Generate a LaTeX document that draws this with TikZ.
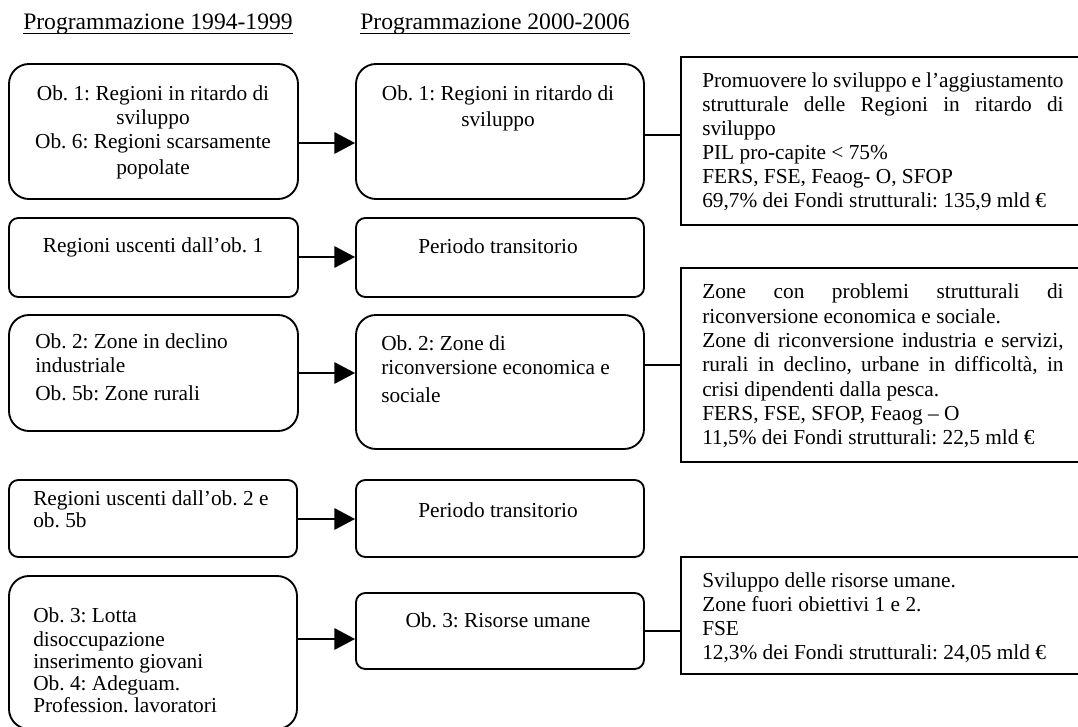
\documentclass[tikz,border=0pt]{standalone}
\usepackage{fontspec}
\setmainfont{Liberation Serif}
\usetikzlibrary{arrows.meta,fit}
\frenchspacing
\begin{document}
\begin{tikzpicture}[x=0.75pt,y=-0.75pt,
  frame/.style={draw, line width=1.4pt, inner sep=0pt, rectangle},
  bigbox/.style={frame, rounded corners=15pt},
  smallbox/.style={frame, rounded corners=7pt},
  infobox/.style={frame},
  body/.style={inner sep=0pt, font=\fontsize{16}{18}\selectfont},
  head/.style={inner sep=0pt, anchor=base west, font=\fontsize{17.7}{20}\selectfont},
  link/.style={line width=1.4pt},
  arrow/.style={link, -{Triangle[length=15.5pt,width=16pt]}},
]
\useasboundingbox (0,0) rectangle (1078,727);

% column headings
\node[head] (h1) at (23,30) {Programmazione 1994-1999};
\node[head] (h2) at (360,30) {Programmazione 2000-2006};
\draw[line width=1.1pt] ([yshift=-2.6pt]h1.base west) -- ([yshift=-2.6pt]h1.base east);
\draw[line width=1.1pt] ([yshift=-2.6pt]h2.base west) -- ([yshift=-2.6pt]h2.base east);

% 1994-1999 objectives
\node[bigbox, fit={(9,64) (298,199)}] (L1) {};
\node[smallbox, fit={(9,218) (298,297)}] (L2) {};
\node[bigbox, fit={(9,315) (298,431)}] (L3) {};
\node[smallbox, fit={(9,480) (297,557)}] (L4) {};
\node[bigbox, fit={(9,576) (297,729)}] (L5) {};

\node[body, anchor=base] (tL1) at (153,101) {\parbox[t]{210pt}{\centering
  Ob. 1: Regioni in ritardo di\\ sviluppo\\ Ob. 6: Regioni scarsamente\\[1.5pt] popolate}};
\node[body, anchor=base] (tL2) at (153,253) {Regioni uscenti dall’ob. 1};
\node[body, anchor=base west] (tL3) at (35,349) {\parbox[t]{200pt}{\raggedright
  Ob. 2: Zone in declino\\ industriale\\[3pt] Ob. 5b: Zone rurali}};
\node[body, anchor=base west] (tL4) at (33,505) {\parbox[t]{200pt}{\raggedright
  Regioni uscenti dall’ob. 2 e\\[-1pt] ob. 5b}};
\node[body, anchor=base west] (tL5) at (33,622) {\parbox[t]{200pt}{\raggedright
  \baselineskip=16.5pt
  Ob. 3: Lotta\\[1.5pt] disoccupazione\\ inserimento giovani\\ Ob. 4: Adeguam.\\ Profession. lavoratori}};

% 2000-2006 objectives
\node[bigbox, fit={(356,64) (644,199)}] (M1) {};
\node[smallbox, fit={(356,218) (644,297)}] (M2) {};
\node[bigbox, fit={(356,315) (644,449)}] (M3) {};
\node[smallbox, fit={(356,480) (644,557)}] (M4) {};
\node[smallbox, fit={(356,593) (644,669)}] (M5) {};

\node[body, anchor=base] (tM1) at (498,101) {\parbox[t]{210pt}{\centering
  Ob. 1: Regioni in ritardo di\\[1pt] sviluppo}};
\node[body, anchor=base] (tM2) at (498,254) {Periodo transitorio};
\node[body, anchor=base west] (tM3) at (381,350) {\parbox[t]{210pt}{\raggedright
  Ob. 2: Zone di\\ riconversione economica e\\[3pt] sociale}};
\node[body, anchor=base] (tM4) at (498,517) {Periodo transitorio};
\node[body, anchor=base] (tM5) at (498,627) {Ob. 3: Risorse umane};

% descriptions
\node[infobox, fit={(681,57) (1090,225)}] (R1) {};
\node[infobox, fit={(681,268) (1090,462)}] (R2) {};
\node[infobox, fit={(681,557) (1090,674)}] (R3) {};

\node[body, anchor=base west] (tR1) at (702,88) {\parbox[t]{271pt}{%
  Promuovere lo sviluppo e l’aggiustamento\linebreak
  strutturale delle Regioni in ritardo di\linebreak
  sviluppo\\
  PIL pro-capite < 75\%\\
  FERS, FSE, Feaog- O, SFOP\\
  69,7\% dei Fondi strutturali: 135,9 mld €}};
\node[body, anchor=base west] (tR2) at (702,299) {\parbox[t]{271pt}{%
  \baselineskip=18.2pt
  Zone con problemi strutturali di\linebreak
  riconversione economica e sociale.\\
  Zone di riconversione industria e servizi,\linebreak
  rurali in declino, urbane in difficoltà, in\linebreak
  crisi dipendenti dalla pesca.\\
  FERS, FSE, SFOP, Feaog -- O\\
  11,5\% dei Fondi strutturali: 22,5 mld €}};
\node[body, anchor=base west] (tR3) at (702,587) {\parbox[t]{271pt}{%
  \baselineskip=18.2pt
  Sviluppo delle risorse umane.\\
  Zone fuori obiettivi 1 e 2.\\
  FSE\\
  12,3\% dei Fondi strutturali: 24,05 mld €}};

% transitions between programming periods
\draw[arrow] (L1.east |- 0,143) -- (M1.west |- 0,143);
\draw[arrow] (L2.east |- 0,257) -- (M2.west |- 0,257);
\draw[arrow] (L3.east |- 0,373) -- (M3.west |- 0,373);
\draw[arrow] (L4.east |- 0,519) -- (M4.west |- 0,519);
\draw[arrow] (L5.east |- 0,639) -- (M5.west |- 0,639);

% links to the descriptions
\draw[link] (M1.east |- 0,135) -- (R1.west |- 0,135);
\draw[link] (M3.east |- 0,365) -- (R2.west |- 0,365);
\draw[link] (M5.east |- 0,631) -- (R3.west |- 0,631);
\end{tikzpicture}
\end{document}
